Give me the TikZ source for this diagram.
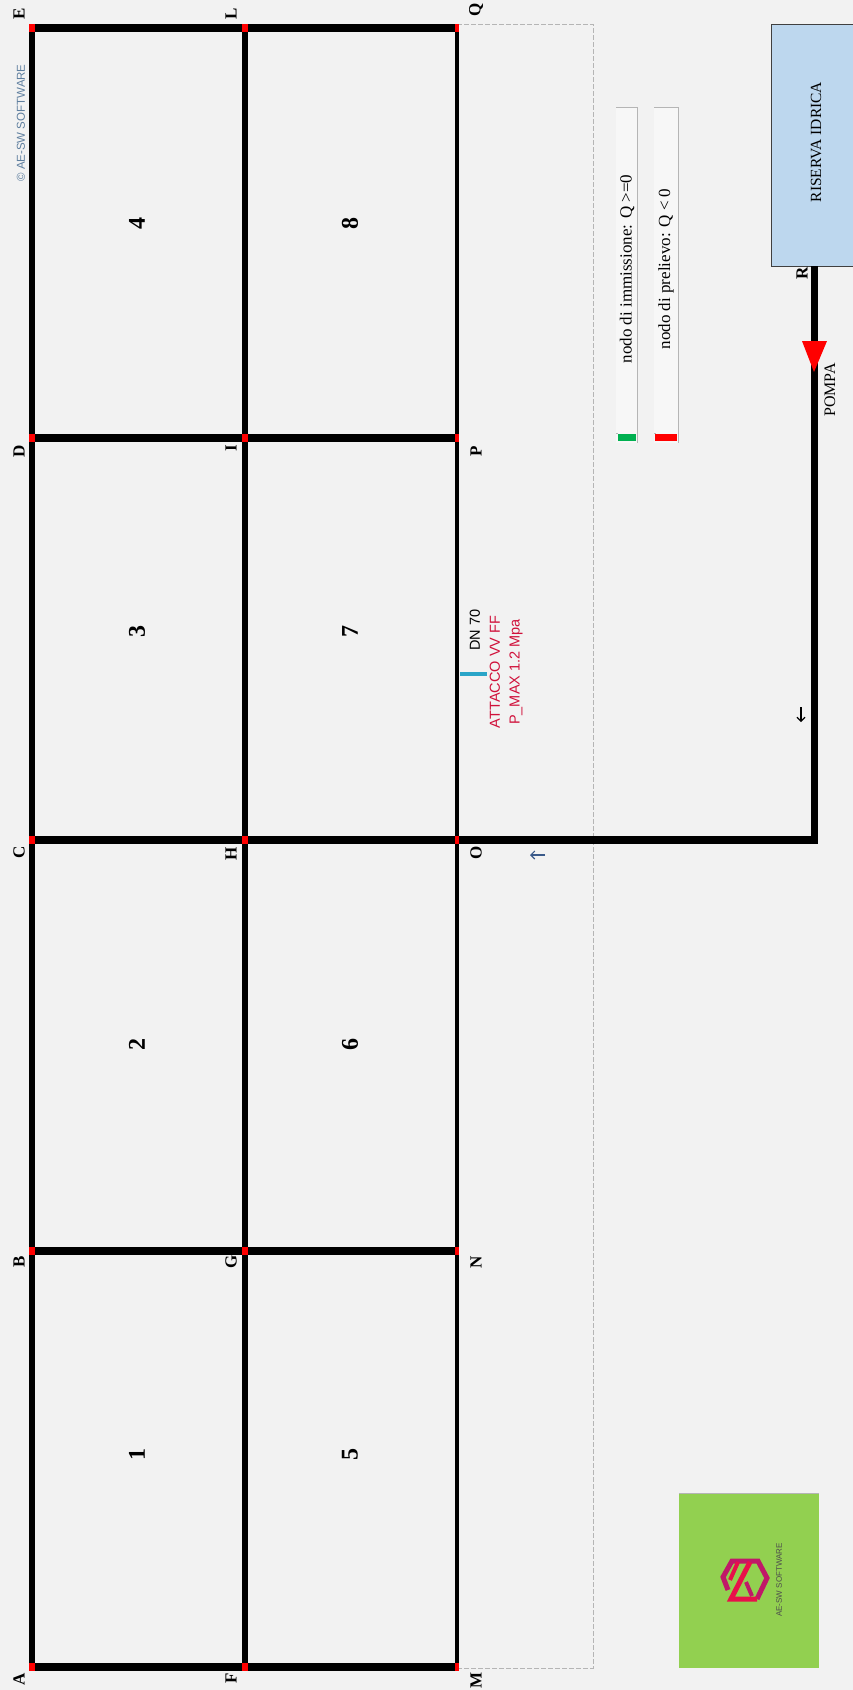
\documentclass[tikz,border=0pt]{standalone}
\usepackage{fontspec}
\setmainfont{Liberation Serif}
\setsansfont{Liberation Sans}
\usetikzlibrary{arrows.meta}
\definecolor{bgc}{HTML}{F2F2F2}
\definecolor{resc}{HTML}{BDD7EE}
\definecolor{logoc}{HTML}{92D050}
\definecolor{wmc}{HTML}{5F7F9F}
\definecolor{attc}{HTML}{D0103A}
\definecolor{tealc}{HTML}{2AA5C8}
\definecolor{edgec}{HTML}{B5B5B5}
\definecolor{greenc}{HTML}{00B050}
\definecolor{logor}{HTML}{E8104A}
\definecolor{logop}{HTML}{C01868}
\definecolor{flowc}{HTML}{3A5A8A}
\tikzset{
  lab/.style={font=\bfseries\fontsize{17}{17}\selectfont,rotate=90,inner sep=0pt},
  num/.style={font=\bfseries\fontsize{24}{24}\selectfont,rotate=90,inner sep=0pt},
  txt/.style={font=\fontsize{#1}{#1}\selectfont,rotate=90,inner sep=0pt},
  txt/.default=15.5,
  sanstxt/.style={font=\sffamily\fontsize{14.5}{15}\selectfont,rotate=90,inner sep=0pt},
  pipeh/.style={line width=8.5pt},
  pipev/.style={line width=6.5pt},
  pipet/.style={line width=4.5pt},
  junc/.style={fill=red,draw=none,minimum width=#1,minimum height=8.5pt,inner sep=0pt,outer sep=0pt},
  legbox/.style={fill=white!35!bgc,draw=none,minimum height=336pt,inner sep=0pt,anchor=north west},
  legedge/.style={draw=edgec,line width=1pt},
  flow/.style={-{Straight Barb[length=4pt,width=8pt]},line width=1.1pt},
}
\begin{document}
\begin{tikzpicture}[x=1pt,y=-1pt]
\useasboundingbox[fill=bgc] (0,0) rectangle (853,1690);
% grid points
\coordinate (A) at (32,1667); \coordinate (B) at (32,1251); \coordinate (C) at (32,840); \coordinate (D) at (32,438); \coordinate (E) at (32,28);
\coordinate (F) at (245,1667); \coordinate (G) at (245,1251); \coordinate (H) at (245,840); \coordinate (I) at (245,438); \coordinate (L) at (245,28);
\coordinate (M) at (457,1667); \coordinate (N) at (457,1251); \coordinate (O) at (457,840); \coordinate (P) at (457,438); \coordinate (Q) at (457,28);
\coordinate (dtr) at (593,24); \coordinate (dbr) at (593,1668);
\coordinate (bend) at (814,840);
% dashed frame
\draw[edgec,line width=1pt,dash pattern=on 5pt off 2pt] (Q |- dtr) -- (dtr) -- (dbr) -- (M |- dbr);
% pipes
\foreach \a/\b in {A/B,B/C,C/D,D/E,F/G,G/H,H/I,I/L}{\draw[pipev] (\a) -- (\b);}
\foreach \a/\b in {M/N,N/O,O/P,P/Q}{\draw[pipet] (\a) -- (\b);}
\foreach \a/\b in {A/F,F/M,B/G,G/N,C/H,H/O,D/I,I/P,E/L,L/Q}{\draw[pipeh] (\a) -- (\b);}
% reserve
\node[fill=resc,draw=black!75,line width=1.2pt,minimum width=90pt,minimum height=242pt,inner sep=0pt,anchor=north west] (res) at (771,24) {};
\coordinate (R) at (814,266);
\draw[line width=7pt] (bend) -- (R);
\draw[pipeh,shorten >=-3.5pt] (O) -- (bend);
\fill[red] (802,341) -- (827,341) -- (814,372) -- cycle;
% junctions
\foreach \p/\w in {A/6.5,B/6.5,C/6.5,D/6.5,E/6.5,F/6.5,G/6.5,H/6.5,I/6.5,L/6.5,M/4.5,N/4.5,O/4.5,P/4.5,Q/4.5}{
  \node[junc=\w pt] (n\p) at (\p) {};
}
% labels
\node[lab] (lA) at (19,1679) {A}; \node[lab] (lB) at (19,1262) {B}; \node[lab] (lC) at (19,852) {C}; \node[lab] (lD) at (19,451) {D}; \node[lab] (lE) at (19,14) {E};
\node[lab] (lF) at (231,1678) {F}; \node[lab] (lG) at (231,1262) {G}; \node[lab] (lH) at (231,854) {H}; \node[lab] (lI) at (231,448) {I}; \node[lab] (lL) at (231,14) {L};
\node[lab] (lM) at (476,1680) {M}; \node[lab] (lN) at (476,1262) {N}; \node[lab] (lO) at (476,853) {O}; \node[lab] (lP) at (476,451) {P}; \node[lab] (lQ) at (476,10) {Q};
\node[lab] (lR) at (802,273) {R};
% numbers
\node[num] (c1) at (137,1454) {1}; \node[num] (c2) at (137,1044) {2}; \node[num] (c3) at (137,631) {3}; \node[num] (c4) at (137,223) {4};
\node[num] (c5) at (350,1454) {5}; \node[num] (c6) at (350,1044) {6}; \node[num] (c7) at (350,631) {7}; \node[num] (c8) at (350,223) {8};
% texts
\node[txt] (restxt) at (816,142) {RISERVA IDRICA};
\node[txt=16] (pompa) at (830,390) {POMPA};
\node[sanstxt,text=wmc,font=\sffamily\fontsize{11.5}{12}\selectfont] (wm) at (21,123) {© AE-SW SOFTWARE};
% legend
\node[legbox,minimum width=21pt] (leg1) at (616,107) {};
\node[legbox,minimum width=24pt] (leg2) at (654,107) {};
\draw[legedge] (leg1.north west) -- (leg1.north east) -- (leg1.south east);
\draw[legedge] (leg2.north west) -- (leg2.north east) -- (leg2.south east);
\draw[legedge] (616,433) -- (618,433);
\draw[legedge] (654,433) -- (656,433);
\fill[greenc] (618,434) rectangle (636,441);
\fill[red] (655,434) rectangle (677,441);
\node[txt=17] (t1) at (627,269) {nodo di immissione: Q >=0};
\node[txt=17] (t2) at (666,269) {nodo di prelievo: Q < 0};
% attacco
\coordinate (att) at (487,674);
\draw[tealc,line width=3.5pt] (nO |- att) ++(3,0) -- (att);
\node[sanstxt] (dn) at (475,630) {DN 70};
\node[sanstxt,text=attc] (att1) at (495,672) {ATTACCO VV FF};
\node[sanstxt,text=attc] (att2) at (516,672) {P\_MAX 1.2 Mpa};
% flow arrows
\coordinate (f1a) at (545,855); \coordinate (f1b) at (530,855);
\draw[flow,draw=flowc] (f1a) -- (f1b);
\coordinate (f2a) at (801,707); \coordinate (f2b) at (801,722);
\draw[flow] (f2a) -- (f2b);
% logo
\node[fill=logoc,draw=none,minimum width=140pt,minimum height=175pt,inner sep=0pt,anchor=north west] (logo) at (679,1493) {};
\draw[edgec,line width=1pt] (logo.north west) -- (logo.north east);
\draw[line width=5pt,draw=logop,line join=miter] (728,1590) -- (723,1577) -- (732,1561) -- (758,1561) -- (767,1578) -- (757,1599);
\draw[line width=5pt,draw=logor,line join=miter] (757,1599) -- (731,1599) -- (750,1562);
\draw[line width=4pt,draw=logor] (738,1562) -- (730,1580);
\draw[line width=4pt,draw=logop] (746,1582) -- (752,1596);
\node[font=\sffamily\fontsize{8}{8}\selectfont,rotate=90,inner sep=0pt,text=black!70] (logotxt) at (779,1580) {AE-SW SOFTWARE};
\end{tikzpicture}
\end{document}
